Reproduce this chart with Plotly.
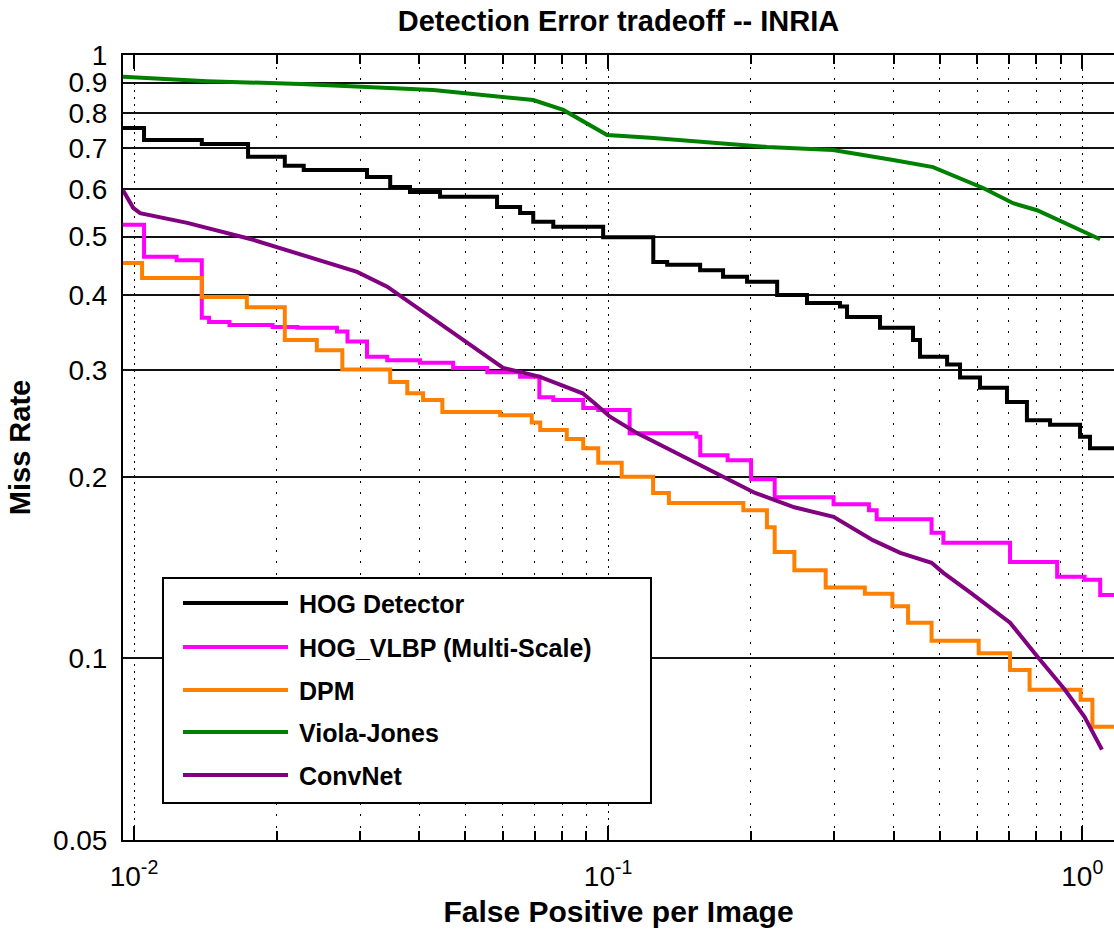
import plotly.graph_objects as go

# ---------------- data ----------------
hog_fppi = [0.00948, 0.0105, 0.0139, 0.0174, 0.0208, 0.0228, 0.031, 0.0347, 0.0382, 0.0442,
            0.0583, 0.0652, 0.0695, 0.0766, 0.0976, 0.1245, 0.1332, 0.1563, 0.1747, 0.1963,
            0.2272, 0.2626, 0.3083, 0.319, 0.3744, 0.4395, 0.4546, 0.5186, 0.5522, 0.6085,
            0.6935, 0.7641, 0.855, 0.989, 1.038, 1.2]
hog_miss = [0.757, 0.723, 0.712, 0.678, 0.655, 0.645, 0.628, 0.604, 0.593, 0.582,
            0.560, 0.547, 0.529, 0.519, 0.499, 0.454, 0.449, 0.440, 0.429, 0.421,
            0.400, 0.388, 0.383, 0.368, 0.353, 0.337, 0.316, 0.307, 0.292, 0.281,
            0.266, 0.248, 0.244, 0.233, 0.223, 0.220]

vlbp_fppi = [0.00948, 0.0105, 0.0123, 0.0139, 0.0144, 0.0159, 0.0196, 0.0221, 0.0268, 0.0282,
             0.0310, 0.0342, 0.0401, 0.0471, 0.0556, 0.0652, 0.0716, 0.0766, 0.0886, 0.0953,
             0.1110, 0.1535, 0.1564, 0.1786, 0.2002, 0.2245, 0.2988, 0.3548, 0.3684, 0.4809,
             0.5093, 0.7040, 0.8849, 1.0107, 1.0907, 1.2]
vlbp_miss = [0.523, 0.463, 0.457, 0.367, 0.361, 0.357, 0.354, 0.353, 0.348, 0.335,
             0.316, 0.312, 0.309, 0.303, 0.298, 0.293, 0.271, 0.268, 0.260, 0.258,
             0.236, 0.233, 0.217, 0.213, 0.198, 0.185, 0.180, 0.176, 0.170, 0.1615,
             0.1555, 0.1445, 0.1365, 0.135, 0.1274, 0.125]

dpm_fppi = [0.00948, 0.0104, 0.0139, 0.0173, 0.0208, 0.0243, 0.0275, 0.0347, 0.0377, 0.0407,
            0.0447, 0.0592, 0.0690, 0.0719, 0.0818, 0.0886, 0.0953, 0.1068, 0.1244, 0.1343,
            0.1928, 0.2162, 0.2245, 0.2470, 0.2876, 0.3478, 0.3975, 0.4290, 0.4809, 0.6045,
            0.7040, 0.7741, 0.9918, 1.0502, 1.2]
dpm_miss = [0.452, 0.427, 0.397, 0.382, 0.337, 0.324, 0.301, 0.287, 0.275, 0.268,
            0.256, 0.253, 0.246, 0.239, 0.231, 0.223, 0.211, 0.200, 0.188, 0.181,
            0.176, 0.165, 0.150, 0.140, 0.131, 0.128, 0.122, 0.1146, 0.107, 0.102,
            0.0957, 0.0887, 0.0854, 0.0770, 0.0756]

vj_fppi = [0.00948, 0.01427, 0.02243, 0.0364, 0.04276, 0.0695, 0.0804, 0.0995, 0.1227, 0.2163,
           0.2979, 0.399, 0.4843, 0.6176, 0.7145, 0.8025, 1.09]
vj_miss = [0.920, 0.905, 0.895, 0.882, 0.875, 0.842, 0.811, 0.737, 0.729, 0.704,
           0.696, 0.670, 0.652, 0.602, 0.568, 0.553, 0.495]

cnn_fppi = [0.00948, 0.00996, 0.0103, 0.01295, 0.01784, 0.0247, 0.02955, 0.0342, 0.04014, 0.04712,
            0.05557, 0.06006, 0.0716, 0.0883, 0.0935, 0.1009, 0.1153, 0.1394, 0.1688, 0.2041,
            0.2470, 0.2988, 0.3615, 0.4131, 0.4809, 0.5093, 0.5818, 0.7040, 0.8045, 0.9190,
            1.0107, 1.0703, 1.100]
cnn_miss = [0.597, 0.558, 0.547, 0.527, 0.494, 0.457, 0.437, 0.413, 0.378, 0.346,
            0.316, 0.303, 0.293, 0.275, 0.265, 0.2515, 0.236, 0.219, 0.203, 0.188,
            0.178, 0.1716, 0.157, 0.1496, 0.144, 0.1386, 0.1284, 0.1146, 0.1006, 0.0887,
            0.080, 0.0733, 0.0706]

series_names = ["HOG Detector", "HOG_VLBP (Multi-Scale)", "DPM", "Viola-Jones", "ConvNet"]
series_colors = ["#000000", "#FF00FF", "#FF8000", "#008000", "#800080"]

y_tickvals = [0.05, 0.1, 0.2, 0.3, 0.4, 0.5, 0.6, 0.7, 0.8, 0.9, 1]
y_ticktext = ["0.05", "0.1", "0.2", "0.3", "0.4", "0.5", "0.6", "0.7", "0.8", "0.9", "1"]
x_major_vals = [0.01, 0.1, 1]
x_major_text = ["10<sup>-2</sup>", "10<sup>-1</sup>", "10<sup>0</sup>"]
x_minor_vals = [m * d for d in (0.01, 0.1, 1) for m in range(2, 10)]

# ---------------- figure ----------------
W, H = 1114, 934
L, R, T, B = 123, 0, 55, 94
pw, ph = W - L - R, H - T - B

fig = go.Figure()
data = [(hog_fppi, hog_miss, "hv"), (vlbp_fppi, vlbp_miss, "hv"), (dpm_fppi, dpm_miss, "hv"),
        (vj_fppi, vj_miss, "linear"), (cnn_fppi, cnn_miss, "linear")]
for (xs, ys, shape), name, col in zip(data, series_names, series_colors):
    fig.add_trace(go.Scatter(x=xs, y=ys, mode="lines", name=name,
                             line=dict(color=col, width=4, shape=shape)))

FONT = "Liberation Sans, Arial, sans-serif"

fig.update_layout(
    width=W, height=H,
    margin=dict(l=L, r=R, t=T, b=B),
    plot_bgcolor="white", paper_bgcolor="white",
    showlegend=False,
    title=dict(text="<b>Detection Error tradeoff -- INRIA</b>", x=(L + pw / 2) / W, xanchor="center",
               y=1 - 21 / H, yanchor="middle", yref="container",
               font=dict(family=FONT, size=29, color="black")),
    font=dict(family=FONT, size=28, color="black"),
)

fig.update_xaxes(
    type="log", range=[-2.0232, 0.0668],
    tickmode="array", tickvals=x_major_vals, ticktext=x_major_text,
    tickfont=dict(family=FONT, size=28, color="black"),
    ticks="inside", ticklen=14, tickwidth=1.5, tickcolor="black",
    showline=True, linecolor="black", linewidth=2, mirror="ticks",
    showgrid=True, gridcolor="black", gridwidth=1, griddash="2px,5px",
    minor=dict(tickmode="array", tickvals=x_minor_vals, ticks="inside", ticklen=9,
               tickwidth=1.5, tickcolor="black", showgrid=True, gridcolor="black",
               gridwidth=1, griddash="2px,9.5px"),
    ticklabelstandoff=10,
    title=dict(text="<b>False Positive per Image</b>", font=dict(family=FONT, size=30, color="black"),
               standoff=10),
    zeroline=False,
)
fig.update_yaxes(
    type="log", range=[-1.30103, 0.0],
    tickmode="array", tickvals=y_tickvals, ticktext=y_ticktext,
    tickfont=dict(family=FONT, size=28, color="black"),
    ticks="inside", ticklen=0, tickcolor="black",
    showline=True, linecolor="black", linewidth=2, mirror=False,
    showgrid=True, gridcolor="#111111", gridwidth=1.6,
    ticklabelstandoff=8,
    title=dict(text="<b>Miss Rate</b>", font=dict(family=FONT, size=29, color="black"), standoff=14),
    zeroline=False,
)

# ---------------- custom legend (box, line samples, labels) ----------------
def px_x(p):
    return (p - L) / pw

def px_y(p):
    return (H - B - p) / ph

box = dict(x0=163, x1=651, y0=578, y1=803)
fig.add_shape(type="rect", xref="paper", yref="paper",
              x0=px_x(box["x0"]), x1=px_x(box["x1"]), y0=px_y(box["y1"]), y1=px_y(box["y0"]),
              line=dict(color="black", width=2), fillcolor="white", layer="above")
rows = [603, 647, 690, 732, 775]
for ry, name, col in zip(rows, series_names, series_colors):
    fig.add_shape(type="line", xref="paper", yref="paper",
                  x0=px_x(183), x1=px_x(288), y0=px_y(ry), y1=px_y(ry),
                  line=dict(color=col, width=4), layer="above")
    fig.add_annotation(xref="paper", yref="paper", x=px_x(297), y=px_y(ry + 1),
                       xanchor="left", yanchor="middle", showarrow=False,
                       text="<b>" + name + "</b>", font=dict(family=FONT, size=25, color="black"))

fig.write_html("out.html")
